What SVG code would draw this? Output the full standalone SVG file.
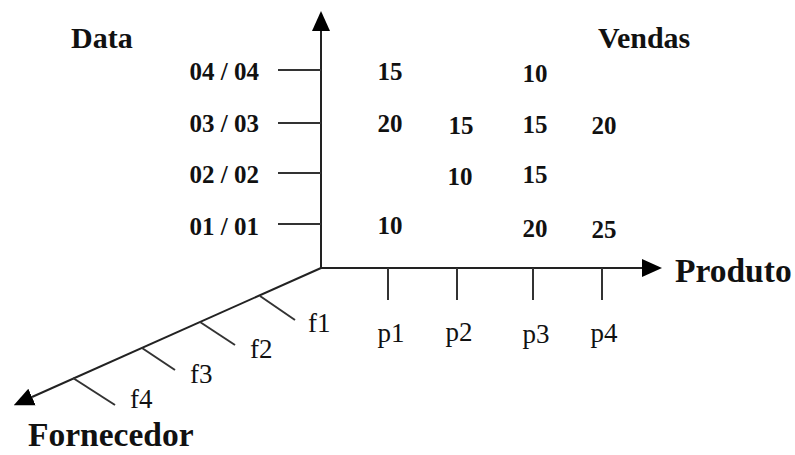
<svg xmlns="http://www.w3.org/2000/svg" width="795" height="455" viewBox="0 0 795 455">
<style>
.b{font-family:"Liberation Serif","Times New Roman",serif;font-weight:bold;fill:#111}
.t{font-size:30px}
.n{font-size:25px}
.big{font-size:33.5px}
.r{font-family:"Liberation Serif","Times New Roman",serif;font-size:27px;fill:#111}
.ax{stroke:#222;stroke-width:2;fill:none}
.tk{stroke:#333;stroke-width:2}
</style>
<defs>
<marker id="ah" viewBox="0 0 20 20" refX="0" refY="10" markerWidth="20" markerHeight="20" markerUnits="userSpaceOnUse" orient="auto">
<path d="M0,1 L20,10 L0,19 Z" fill="#000"/>
</marker>
</defs>
<g id="connectors">
<line class="ax" x1="321" y1="268" x2="321" y2="31" marker-end="url(#ah)"/>
<line class="ax" x1="321" y1="268" x2="642" y2="268" marker-end="url(#ah)"/>
<line class="ax" x1="321" y1="268" x2="32" y2="397" marker-end="url(#ah)"/>
</g>
<g id="data-axis">
<text class="b t" x="71" y="48">Data</text>
<line class="tk" x1="278" y1="70" x2="321" y2="70"/>
<line class="tk" x1="278" y1="123" x2="321" y2="123"/>
<line class="tk" x1="278" y1="173" x2="321" y2="173"/>
<line class="tk" x1="278" y1="224" x2="321" y2="224"/>
<text class="b n" x="259" y="80" text-anchor="end">04 / 04</text>
<text class="b n" x="259" y="132" text-anchor="end">03 / 03</text>
<text class="b n" x="259" y="183" text-anchor="end">02 / 02</text>
<text class="b n" x="259" y="235" text-anchor="end">01 / 01</text>
</g>
<g id="produto-axis">
<text class="b big" x="675" y="282">Produto</text>
<line class="tk" x1="388" y1="268" x2="388" y2="300"/>
<line class="tk" x1="457" y1="268" x2="457" y2="300"/>
<line class="tk" x1="533" y1="268" x2="533" y2="300"/>
<line class="tk" x1="602" y1="268" x2="602" y2="300"/>
<text class="r" x="391" y="342" text-anchor="middle">p1</text>
<text class="r" x="459" y="341" text-anchor="middle">p2</text>
<text class="r" x="536" y="343" text-anchor="middle">p3</text>
<text class="r" x="604" y="342" text-anchor="middle">p4</text>
</g>
<g id="fornecedor-axis">
<text class="b big" x="28" y="446">Fornecedor</text>
<line class="tk" x1="260" y1="296" x2="295" y2="320"/>
<line class="tk" x1="200" y1="322" x2="235" y2="345"/>
<line class="tk" x1="142" y1="348" x2="175" y2="370"/>
<line class="tk" x1="73" y1="378" x2="115" y2="405"/>
<text class="r" x="308" y="332">f1</text>
<text class="r" x="250" y="358">f2</text>
<text class="r" x="190" y="383">f3</text>
<text class="r" x="130" y="408">f4</text>
</g>
<g id="vendas">
<text class="b t" x="598" y="48">Vendas</text>
<text class="b n" x="390" y="80" text-anchor="middle">15</text>
<text class="b n" x="535" y="82" text-anchor="middle">10</text>
<text class="b n" x="390" y="132" text-anchor="middle">20</text>
<text class="b n" x="461" y="134" text-anchor="middle">15</text>
<text class="b n" x="535" y="133" text-anchor="middle">15</text>
<text class="b n" x="604" y="134" text-anchor="middle">20</text>
<text class="b n" x="460" y="185" text-anchor="middle">10</text>
<text class="b n" x="535" y="183" text-anchor="middle">15</text>
<text class="b n" x="390" y="234" text-anchor="middle">10</text>
<text class="b n" x="535" y="237" text-anchor="middle">20</text>
<text class="b n" x="604" y="238" text-anchor="middle">25</text>
</g>
</svg>
